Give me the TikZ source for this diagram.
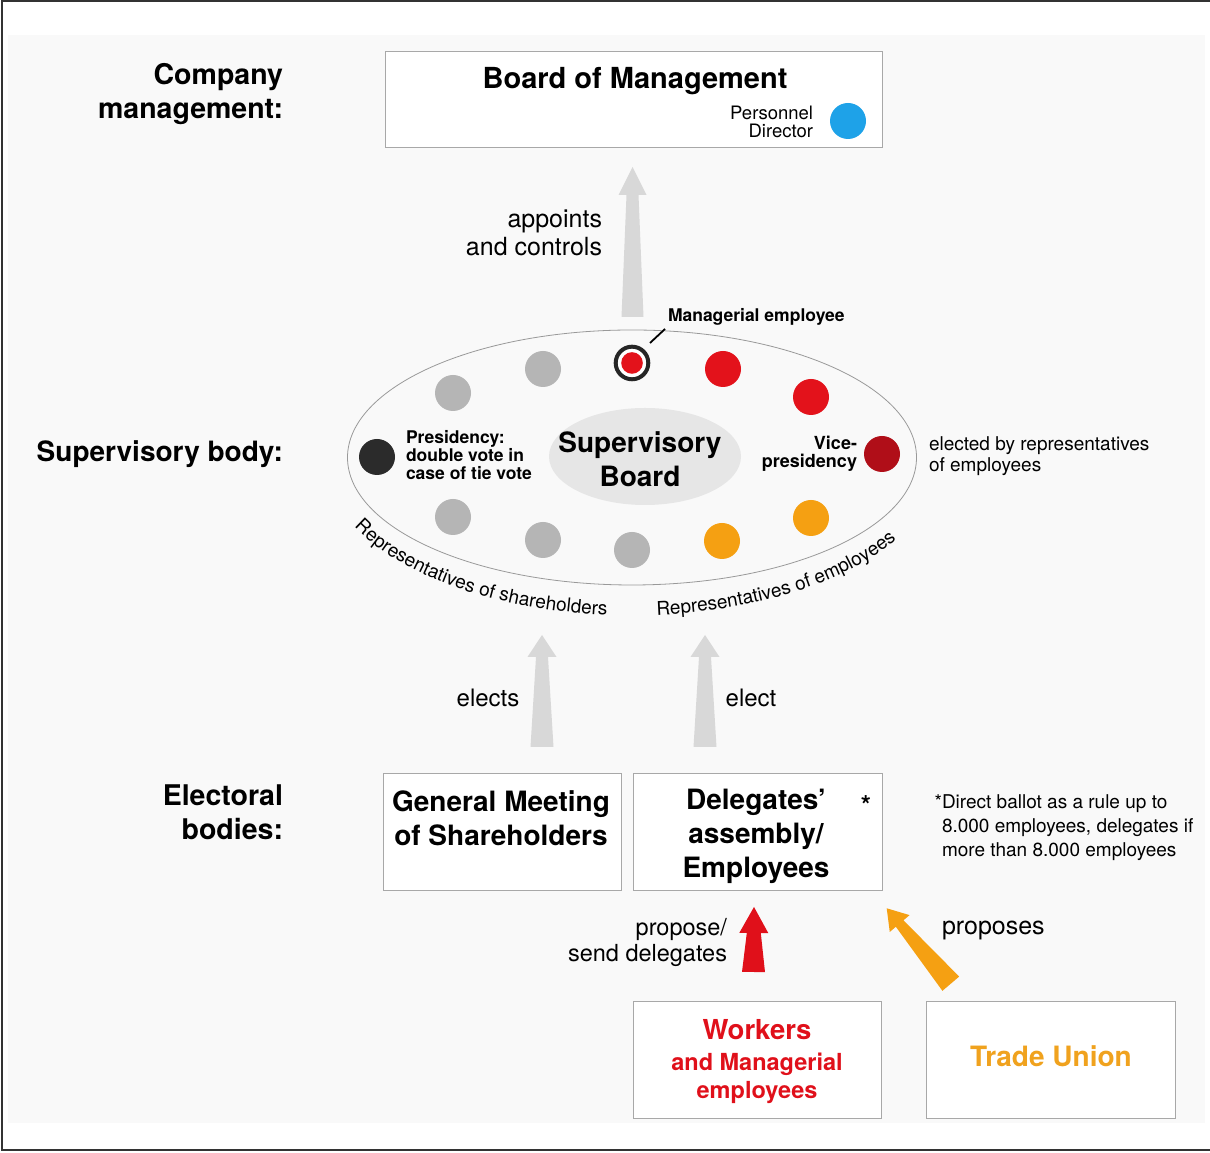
\documentclass[tikz,border=0pt]{standalone}
\usepackage{fontspec}
\setmainfont{TeX Gyre Heros}
\usetikzlibrary{calc,shapes.geometric,decorations.text}
\definecolor{bg}{HTML}{F9F9F9}
\definecolor{boxline}{HTML}{A8A8A8}
\definecolor{arrowgray}{HTML}{D8D8D8}
\definecolor{dotgray}{HTML}{B5B5B5}
\definecolor{dotred}{HTML}{E3121B}
\definecolor{dotdark}{HTML}{B00E18}
\definecolor{dotorange}{HTML}{F5A012}
\definecolor{dotblack}{HTML}{2B2B2B}
\definecolor{dotblue}{HTML}{1EA2E8}
\definecolor{wred}{HTML}{E0101A}
\definecolor{tuorange}{HTML}{F0A21E}
\definecolor{innergray}{HTML}{E6E6E6}
\definecolor{ellline}{HTML}{999999}
\newcommand\myfs[2]{\fontsize{#1}{#2}\selectfont}
% colour, tail, tip, tail half width, neck half width, head half width, head length
\newcommand\fatarrow[7]{%
  \coordinate (faneck) at ($(#3)!#7!(#2)$);
  \fill[#1] ($(#2)!#4!90:(#3)$) -- ($(faneck)!#5!90:(#3)$) -- ($(faneck)!#6!90:(#3)$) -- (#3)
    -- ($(faneck)!#6!-90:(#3)$) -- ($(faneck)!#5!-90:(#3)$) -- ($(#2)!#4!-90:(#3)$) -- cycle;}
\begin{document}
\begin{tikzpicture}[x=1pt,y=1pt,
  every node/.style={inner sep=0pt, outer sep=0pt},
  boxstyle/.style={draw=boxline, line width=1pt, fill=white, anchor=south west},
  lab/.style={font=\bfseries\myfs{28.5}{34}, align=right, anchor=east},
  dot/.style={circle, minimum size=36pt, inner sep=0pt},
  btxt/.style={font=\bfseries\myfs{28}{34}, align=center},
  rtxt/.style={font=\myfs{24}{28}}]
\useasboundingbox (0,0) rectangle (1210,1153);
\fill[bg] (8,30) rectangle (1205,1118);
\draw[line width=1.8pt, black!80] (1210,1152) -- (2,1152) -- (2,3) -- (1210,3);

% labels on the left
\node[lab] (lcm) at (283,1059) {Company\\management:};
\node[lab, font=\bfseries\myfs{28}{34}] (lsb) at (283,699) {Supervisory body:};
\node[lab] (leb) at (283,340.5) {Electoral\\bodies:};

% board of management
\node[boxstyle, minimum width=497pt, minimum height=96pt] (bom) at (385,1005) {};
\node[font=\bfseries\myfs{29}{34}] (bomt) at (635,1072) {Board of Management};
\node[font=\myfs{18.5}{18}, align=right, anchor=east] (pd) at (813,1031) {Personnel\\Director};
\node[dot, fill=dotblue] (pdc) at (848,1032) {};

% appoints arrow
\coordinate (a1t) at (632.5,836);
\coordinate (a1h) at (632.5,986);
\fatarrow{arrowgray}{a1t}{a1h}{11pt}{6pt}{14pt}{28pt}
\node[rtxt, font=\myfs{25}{28}, align=right, anchor=east] (app) at (602,920) {appoints\\and controls};

% supervisory board ellipse
\node[ellipse, draw=ellline, line width=0.8pt, minimum width=569pt, minimum height=255pt] (sb) at (632,695.5) {};
\node[ellipse, fill=innergray, minimum width=192pt, minimum height=97pt] (sbin) at (645,696.5) {};
\node[btxt] (sbt) at (640,693.5) {Supervisory\\Board};

\node[dot, fill=dotgray] (g1) at (453,760) {};
\node[dot, fill=dotgray] (g2) at (543,784) {};
\node[dot, fill=dotgray] (g3) at (453,636) {};
\node[dot, fill=dotgray] (g4) at (543,613) {};
\node[dot, fill=dotgray] (g5) at (632,603) {};
\node[circle, draw=black!85, line width=4pt, fill=white, minimum size=32.6pt] (mg) at (632,790) {};
\node[circle, fill=dotred, minimum size=21.6pt] (mgin) at (632,790) {};
\node[dot, fill=dotred] (r1) at (723,784) {};
\node[dot, fill=dotred] (r2) at (811,756) {};
\node[dot, fill=dotdark] (vp) at (882,699) {};
\node[dot, fill=dotorange] (o2) at (811,635) {};
\node[dot, fill=dotorange] (o1) at (722,612) {};
\node[dot, fill=dotblack] (pr) at (377,696) {};

\node[font=\bfseries\myfs{17.5}{18}, anchor=west] (mgt) at (668,836) {Managerial employee};
\coordinate (mgl) at (665,824);
\draw[line width=1.8pt] (mg) ++(18,20) -- (mgl);
\node[font=\bfseries\myfs{17.5}{18}, align=left, anchor=west] (prt) at (406,698) {Presidency:\\double vote in\\case of tie vote};
\node[font=\bfseries\myfs{18}{18}, align=right, anchor=east] (vpt) at (857,699) {Vice-\\presidency};
\node[font=\myfs{19}{21}, align=left, anchor=west] (el) at (929,696.5) {elected by representatives\\of employees};

% curved captions
\path[decorate, decoration={text along path, text={|\myfs{19}{19}|Representatives of shareholders}, text align=left}]
  ($(sb.center)+(206:309pt and 158pt)$) arc[start angle=206, end angle=275, x radius=309pt, y radius=158pt];
\path[decorate, decoration={text along path, text={|\myfs{19}{19}|Representatives of employees}, text align=left}]
  ($(sb.center)+(274.6:309pt and 158pt)$) arc[start angle=274.6, end angle=350, x radius=309pt, y radius=158pt];

% elect arrows
\coordinate (a2t) at (542,406);
\coordinate (a2h) at (542,518);
\fatarrow{arrowgray}{a2t}{a2h}{11.5pt}{6pt}{14.5pt}{22pt}
\coordinate (a3t) at (705,406);
\coordinate (a3h) at (705,518);
\fatarrow{arrowgray}{a3t}{a3h}{11.5pt}{6pt}{14.5pt}{22pt}
\node[rtxt] (elt1) at (488,455) {elects};
\node[rtxt] (elt2) at (751,455) {elect};

% electoral bodies
\node[boxstyle, minimum width=238pt, minimum height=117pt] (gm) at (383,262) {};
\node[btxt] (gmt) at (501,335) {General Meeting\\of Shareholders};
\node[boxstyle, minimum width=249pt, minimum height=117pt] (da) at (633,262) {};
\node[btxt] (dat) at (756,317) {Delegates’\\assembly/\\Employees};
\node[font=\bfseries\myfs{26}{26}] (ast) at (866,348) {*};
\node[font=\myfs{19}{24}, align=left, anchor=west] (fn) at (942,325) {\llap{*}Direct ballot as a rule up to\\8.000 employees, delegates if\\more than 8.000 employees};

% bottom arrows
\coordinate (a4t) at (753.5,181);
\coordinate (a4h) at (754,246);
\fatarrow{wred}{a4t}{a4h}{11.5pt}{7pt}{14.5pt}{26pt}
\node[font=\myfs{23.5}{26}, align=right, anchor=east] (prop) at (727,210) {propose/\\send delegates};
\coordinate (a5t) at (950.8,169.3);
\coordinate (a5h) at (886.7,244.7);
\fatarrow{dotorange}{a5t}{a5h}{11pt}{5pt}{13pt}{20pt}
\node[font=\myfs{25}{28}, anchor=west] (props) at (942,223) {proposes};

% workers and trade union
\node[boxstyle, minimum width=248pt, minimum height=117pt] (wk) at (633,34) {};
\node[font=\bfseries\myfs{27.5}{30}, text=wred] (wkt) at (757,123) {Workers};
\node[font=\bfseries\myfs{23.5}{28}, text=wred, align=center] (wkt2) at (757,75) {and Managerial\\employees};
\node[boxstyle, minimum width=249pt, minimum height=117pt] (tu) at (926,34) {};
\node[font=\bfseries\myfs{28}{30}, text=tuorange] (tut) at (1051,97) {Trade Union};
\end{tikzpicture}
\end{document}
